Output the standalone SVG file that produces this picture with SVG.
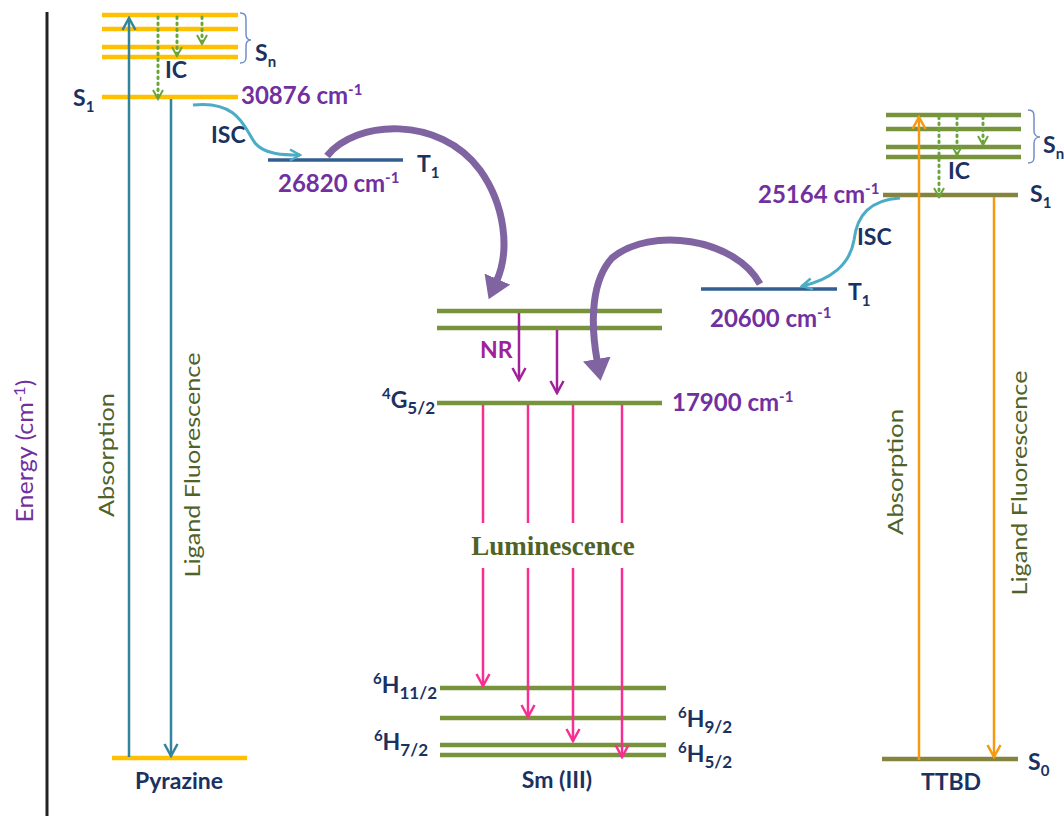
<svg xmlns="http://www.w3.org/2000/svg" width="1064" height="816" viewBox="0 0 1064 816">
<style>
.nv{font-family:Lato,"Liberation Sans",sans-serif;font-weight:bold;fill:#1B3160;font-size:23px}
.pu{font-family:Lato,"Liberation Sans",sans-serif;font-weight:bold;fill:#7030A0;font-size:24px}
.ol{font-family:Lato,"Liberation Sans",sans-serif;fill:#4F6228;font-size:21px;text-anchor:middle}
.yl{stroke:#FFC000;stroke-width:4.5}
.gr{stroke:#77933C;stroke-width:4.5}
.kh{stroke:#85843F;stroke-width:4.5}
.t1{stroke:#335E91;stroke-width:3.5}
.ic{stroke:#6AA53A;stroke-width:3;stroke-dasharray:1.5 4.5;stroke-linecap:round;fill:none;marker-end:url(#mIC)}
.teal{stroke:#31849B;stroke-width:2.5;fill:none;marker-end:url(#mTeal)}
.org{stroke:#F59A10;stroke-width:2.5;fill:none;marker-end:url(#mOrg)}
.pk{stroke:#F72F92;stroke-width:2.5;fill:none}
.pka{stroke:#F72F92;stroke-width:2.5;fill:none;marker-end:url(#mPk)}
.nr{stroke:#A0219A;stroke-width:2.5;fill:none;marker-end:url(#mNR)}
.isc{stroke:#4BACC6;stroke-width:3;fill:none;marker-end:url(#mISC)}
.big{stroke:#8064A2;stroke-width:7;fill:none;marker-end:url(#mBig)}
.br{stroke:#6F8FC7;stroke-width:1.5;fill:none}
</style>
<defs>
<marker id="mTeal" viewBox="0 0 16 16" refX="14" refY="8" markerWidth="16" markerHeight="16" markerUnits="userSpaceOnUse" orient="auto"><path d="M2,1.5 L14,8 L2,14.5" fill="none" stroke="#31849B" stroke-width="2.5"/></marker>
<marker id="mOrg" viewBox="0 0 16 16" refX="14" refY="8" markerWidth="16" markerHeight="16" markerUnits="userSpaceOnUse" orient="auto"><path d="M2,1.5 L14,8 L2,14.5" fill="none" stroke="#F59A10" stroke-width="2.5"/></marker>
<marker id="mPk" viewBox="0 0 16 16" refX="14" refY="8" markerWidth="16" markerHeight="16" markerUnits="userSpaceOnUse" orient="auto"><path d="M2,1.5 L14,8 L2,14.5" fill="none" stroke="#F72F92" stroke-width="2.5"/></marker>
<marker id="mNR" viewBox="0 0 16 16" refX="14" refY="8" markerWidth="16" markerHeight="16" markerUnits="userSpaceOnUse" orient="auto"><path d="M2,1.5 L14,8 L2,14.5" fill="none" stroke="#A0219A" stroke-width="2.5"/></marker>
<marker id="mIC" viewBox="0 0 12 12" refX="10.5" refY="6" markerWidth="12" markerHeight="12" markerUnits="userSpaceOnUse" orient="auto"><path d="M1.5,1 L10.5,6 L1.5,11" fill="none" stroke="#6AA53A" stroke-width="2"/></marker>
<marker id="mISC" viewBox="0 0 14 14" refX="12" refY="7" markerWidth="14" markerHeight="14" markerUnits="userSpaceOnUse" orient="auto"><path d="M2,1.5 L12,7 L2,12.5" fill="none" stroke="#4BACC6" stroke-width="2.5"/></marker>
<marker id="mBig" viewBox="0 0 22 28" refX="1" refY="14" markerWidth="22" markerHeight="28" markerUnits="userSpaceOnUse" orient="auto"><path d="M0,0 L22,14 L0,28 Z" fill="#8064A2"/></marker>
</defs>

<g id="axis">
<line x1="47" y1="12" x2="47" y2="816" stroke="#222" stroke-width="3"/>
<text transform="rotate(-90 33 451)" x="33" y="451" font-family="Lato,'Liberation Sans',sans-serif" font-size="24" fill="#7030A0" text-anchor="middle" textLength="143" lengthAdjust="spacingAndGlyphs">Energy (cm<tspan font-size="16" dy="-8">-1</tspan><tspan dy="8">)</tspan></text>
</g>

<g id="pyrazine">
<line class="yl" x1="102" y1="15" x2="238" y2="15"/>
<line class="yl" x1="102" y1="29" x2="238" y2="29"/>
<line class="yl" x1="102" y1="47" x2="238" y2="47"/>
<line class="yl" x1="102" y1="57" x2="238" y2="57"/>
<line class="yl" x1="102" y1="97" x2="238" y2="97"/>
<line class="yl" x1="112" y1="758" x2="247" y2="758"/>
<path class="br" d="M240,13 C246,13 246,16 246,22 L246,34 C246,38 248,40 251,40 C248,40 246,42 246,46 L246,57 C246,62 244,63 240,63"/>
<text class="nv" x="255" y="61">S<tspan font-size="15" dy="6">n</tspan></text>
<text class="nv" x="73" y="106">S<tspan font-size="15" dy="6">1</tspan></text>
<text class="nv" x="165" y="78">IC</text>
<text class="pu" x="241" y="104">30876 cm<tspan font-size="15" dy="-9">-1</tspan></text>
<text class="ol" transform="rotate(-90 114 455)" x="114" y="455" textLength="124" lengthAdjust="spacingAndGlyphs">Absorption</text>
<text class="ol" transform="rotate(-90 200 465)" x="200" y="465" textLength="225" lengthAdjust="spacingAndGlyphs">Ligand Fluorescence</text>
<text class="nv" x="179" y="789" text-anchor="middle">Pyrazine</text>
</g>

<g id="pyrazine-T1">
<line class="t1" x1="268" y1="160" x2="403" y2="160"/>
<text class="nv" x="417" y="172">T<tspan font-size="15" dy="6">1</tspan></text>
<text class="pu" x="278" y="192">26820 cm<tspan font-size="15" dy="-9">-1</tspan></text>
<text class="nv" x="211" y="143">ISC</text>
</g>

<g id="sm">
<line class="gr" x1="437" y1="311" x2="662" y2="311"/>
<line class="gr" x1="437" y1="328" x2="662" y2="328"/>
<line class="gr" x1="437" y1="403" x2="662" y2="403"/>
<line class="gr" x1="440" y1="688" x2="666" y2="688"/>
<line class="gr" x1="440" y1="718" x2="666" y2="718"/>
<line class="gr" x1="440" y1="745" x2="666" y2="745"/>
<line class="gr" x1="440" y1="755" x2="666" y2="755"/>
<text class="nv" x="435" y="408" text-anchor="end"><tspan font-size="15" dy="-9">4</tspan><tspan dy="9">G</tspan><tspan font-size="17" dy="6">5/2</tspan></text>
<text class="pu" x="672" y="411">17900 cm<tspan font-size="15" dy="-9">-1</tspan></text>
<text class="nv" x="480" y="358" style="fill:#A0219A">NR</text>
<text x="553" y="555" font-family="'Liberation Serif','Times New Roman',serif" font-weight="bold" font-size="27" fill="#4F6228" text-anchor="middle">Luminescence</text>
<text class="nv" x="437" y="693" text-anchor="end"><tspan font-size="15" dy="-9">6</tspan><tspan dy="9">H</tspan><tspan font-size="17" dy="6">11/2</tspan></text>
<text class="nv" x="678" y="727"><tspan font-size="15" dy="-9">6</tspan><tspan dy="9">H</tspan><tspan font-size="17" dy="6">9/2</tspan></text>
<text class="nv" x="428" y="750" text-anchor="end"><tspan font-size="15" dy="-9">6</tspan><tspan dy="9">H</tspan><tspan font-size="17" dy="6">7/2</tspan></text>
<text class="nv" x="678" y="762"><tspan font-size="15" dy="-9">6</tspan><tspan dy="9">H</tspan><tspan font-size="17" dy="6">5/2</tspan></text>
<text class="nv" x="557" y="788" text-anchor="middle">Sm (III)</text>
</g>

<g id="ttbd-T1">
<line class="t1" x1="701" y1="289" x2="837" y2="289"/>
<text class="nv" x="848" y="300">T<tspan font-size="15" dy="6">1</tspan></text>
<text class="pu" x="710" y="327">20600 cm<tspan font-size="15" dy="-9">-1</tspan></text>
<text class="nv" x="857" y="245">ISC</text>
</g>

<g id="ttbd">
<line class="gr" x1="886" y1="115" x2="1021" y2="115"/>
<line class="gr" x1="886" y1="129" x2="1021" y2="129"/>
<line class="gr" x1="886" y1="147" x2="1021" y2="147"/>
<line class="gr" x1="886" y1="157" x2="1021" y2="157"/>
<line class="kh" x1="883" y1="195" x2="1018" y2="195"/>
<line class="kh" x1="882" y1="759" x2="1018" y2="759"/>
<path class="br" d="M1028,110 C1034,110 1034,113 1034,119 L1034,131 C1034,135 1037,137 1040,137 C1037,137 1034,139 1034,143 L1034,157 C1034,162 1032,163 1028,163"/>
<text class="nv" x="1043" y="153">S<tspan font-size="15" dy="6">n</tspan></text>
<text class="nv" x="1030" y="202">S<tspan font-size="15" dy="6">1</tspan></text>
<text class="nv" x="948" y="179">IC</text>
<text class="pu" x="758" y="203">25164 cm<tspan font-size="15" dy="-9">-1</tspan></text>
<text class="ol" transform="rotate(-90 903 472)" x="903" y="472" textLength="126" lengthAdjust="spacingAndGlyphs">Absorption</text>
<text class="ol" transform="rotate(-90 1027 483)" x="1027" y="483" textLength="225" lengthAdjust="spacingAndGlyphs">Ligand Fluorescence</text>
<text class="nv" x="1028" y="770">S<tspan font-size="15" dy="6">0</tspan></text>
<text class="nv" x="951" y="790" text-anchor="middle">TTBD</text>
</g>

<g id="connectors">
<line class="teal" x1="129" y1="757" x2="129" y2="18"/>
<line class="teal" x1="171" y1="99" x2="171" y2="756"/>
<line class="ic" x1="158" y1="17" x2="158" y2="99"/>
<line class="ic" x1="177" y1="17" x2="177" y2="56"/>
<line class="ic" x1="202" y1="17" x2="202" y2="44"/>
<path class="isc" d="M193,105 C240,100 245,130 255,143 C265,155 285,155 300,155"/>
<path class="big" d="M327,156 C355,120 440,115 480,170 C505,205 510,250 497,280"/>
<line class="nr" x1="519" y1="313" x2="519" y2="380"/>
<line class="nr" x1="557" y1="330" x2="557" y2="393"/>
<line class="pk" x1="483" y1="405" x2="483" y2="523"/>
<line class="pk" x1="528" y1="405" x2="528" y2="523"/>
<line class="pk" x1="573" y1="405" x2="573" y2="523"/>
<line class="pk" x1="622" y1="405" x2="622" y2="523"/>
<line class="pka" x1="483" y1="568" x2="483" y2="686"/>
<line class="pka" x1="528" y1="568" x2="528" y2="717"/>
<line class="pka" x1="573" y1="568" x2="573" y2="741"/>
<line class="pka" x1="622" y1="568" x2="622" y2="757"/>
<path class="big" d="M760,284 C735,238 650,226 612,258 C592,280 590,320 597,360"/>
<path class="isc" d="M900,198 C870,200 857,215 854,240 C850,265 830,280 802,286"/>
<line class="ic" x1="939" y1="117" x2="939" y2="197"/>
<line class="ic" x1="957" y1="117" x2="957" y2="155"/>
<line class="ic" x1="983" y1="117" x2="983" y2="145"/>
<line class="org" x1="919" y1="760" x2="919" y2="117"/>
<line class="org" x1="994" y1="197" x2="994" y2="757"/>
</g>
</svg>
